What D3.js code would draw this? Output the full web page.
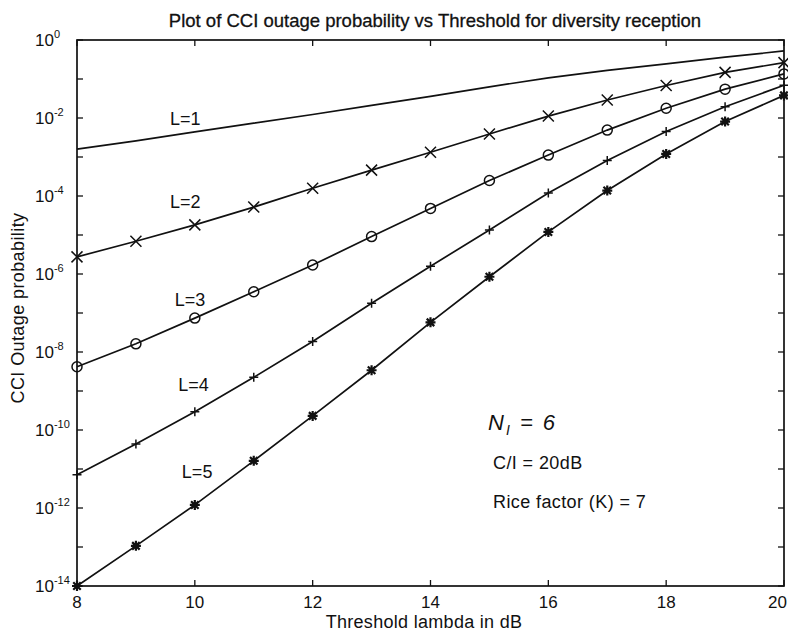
<!DOCTYPE html>
<html>
<head>
<meta charset="utf-8">
<script src="https://cdn.jsdelivr.net/npm/d3@7"></script>
<style>
  body { margin: 0; background: #fff; }
  text { font-family: "Liberation Sans", Arial, sans-serif; fill: #111; }
</style>
</head>
<body>
<div id="chart"></div>
<script>
// threshold lambda (dB)
const thresholds = [8, 9, 10, 11, 12, 13, 14, 15, 16, 17, 18, 19, 20]

// CCI outage probability for L = 1..5 branches
const outageL1 = [1.6e-3, 2.6e-3, 4.4e-3, 7.4e-3, 1.23e-2, 2.1e-2, 3.6e-2, 6.3e-2, 0.107, 0.166, 0.245, 0.363, 0.525]
const outageL2 = [2.75e-6, 6.9e-6, 1.82e-5, 5.2e-5, 1.58e-4, 4.6e-4, 1.32e-3, 3.9e-3, 1.12e-2, 2.9e-2, 6.8e-2, 0.148, 0.263]
const outageL3 = [4.2e-9, 1.62e-8, 7.4e-8, 3.5e-7, 1.7e-6, 9.1e-6, 4.8e-5, 2.5e-4, 1.12e-3, 4.9e-3, 1.78e-2, 5.5e-2, 0.135]
const outageL4 = [7.1e-12, 4.4e-11, 2.95e-10, 2.24e-9, 1.86e-8, 1.78e-7, 1.58e-6, 1.35e-5, 1.2e-4, 8.1e-4, 4.5e-3, 1.95e-2, 6.9e-2]
const outageL5 = [1.0e-14, 1.07e-13, 1.2e-12, 1.62e-11, 2.3e-10, 3.4e-9, 5.75e-8, 8.5e-7, 1.2e-5, 1.38e-4, 1.2e-3, 8.1e-3, 3.8e-2]

const seriesNames = ['L=1', 'L=2', 'L=3', 'L=4', 'L=5']
const seriesMarkers = ['none', 'x', 'o', '+', '*']

const xTicks = [8, 10, 12, 14, 16, 18, 20]
const yExponents = [0, -1, -2, -3, -4, -5, -6, -7, -8, -9, -10, -11, -12, -13, -14]
const yLabelExponents = [0, -2, -4, -6, -8, -10, -12, -14]

const width = 788
const height = 633
const plotLeft = 77, plotRight = 784, plotTop = 40, plotBottom = 586

const svg = d3.select('#chart').append('svg')
    .attr('width', width)
    .attr('height', height)

const x = d3.scaleLinear().domain([8, 20]).range([plotLeft, plotRight])
const y = d3.scaleLog().domain([1e-14, 1]).range([plotBottom, plotTop])

const allSeries = [outageL1, outageL2, outageL3, outageL4, outageL5].map((vals, i) => ({
    name: seriesNames[i],
    marker: seriesMarkers[i],
    points: thresholds.map((t, j) => ({ t: t, p: vals[j] }))
}))

// frame
svg.append('rect')
    .attr('x', plotLeft).attr('y', plotTop)
    .attr('width', plotRight - plotLeft).attr('height', plotBottom - plotTop)
    .attr('fill', 'none').attr('stroke', '#111').attr('stroke-width', 1.7)

// ticks pointing inward on all four sides
const tickLen = 6
const ticks = svg.append('g').attr('stroke', '#111').attr('stroke-width', 1.3)
xTicks.forEach(t => {
    ticks.append('line').attr('x1', x(t)).attr('x2', x(t)).attr('y1', plotBottom).attr('y2', plotBottom - tickLen)
    ticks.append('line').attr('x1', x(t)).attr('x2', x(t)).attr('y1', plotTop).attr('y2', plotTop + tickLen)
})
yExponents.forEach(e => {
    const v = Math.pow(10, e)
    ticks.append('line').attr('x1', plotLeft).attr('x2', plotLeft + tickLen).attr('y1', y(v)).attr('y2', y(v))
    ticks.append('line').attr('x1', plotRight).attr('x2', plotRight - tickLen).attr('y1', y(v)).attr('y2', y(v))
})

// x tick labels (the last one is pulled in so it stays on the page)
svg.append('g').selectAll('text')
    .data(xTicks)
    .enter().append('text')
    .attr('x', d => d === 20 ? 787 : x(d))
    .attr('y', plotBottom + 22)
    .attr('text-anchor', d => d === 20 ? 'end' : 'middle')
    .attr('font-size', 17)
    .text(d => d)

// y tick labels: 10 with a superscript exponent
const yLab = svg.append('g').selectAll('text')
    .data(yLabelExponents)
    .enter().append('text')
    .attr('x', 35)
    .attr('y', d => y(Math.pow(10, d)) + 6)
    .attr('font-size', 17)
yLab.append('tspan').text('10')
yLab.append('tspan').attr('dy', -8).attr('font-size', 11).text(d => d === 0 ? '0' : d)

// curves
const line = d3.line().x(d => x(d.t)).y(d => y(d.p))
svg.append('g').selectAll('path')
    .data(allSeries)
    .enter().append('path')
    .attr('d', d => line(d.points))
    .attr('fill', 'none')
    .attr('stroke', '#111')
    .attr('stroke-width', 1.7)

// markers
function markerPath (type, s) {
    if (type === 'x') return `M${-s},${-s}L${s},${s}M${-s},${s}L${s},${-s}`
    if (type === '+') return `M${-s},0L${s},0M0,${-s}L0,${s}`
    if (type === '*') {
        const k = s * 0.75
        return `M${-s},0L${s},0M0,${-s}L0,${s}M${-k},${-k}L${k},${k}M${-k},${k}L${k},${-k}`
    }
    return ''
}
allSeries.filter(d => d.marker !== 'none').forEach(s => {
    const g = svg.append('g')
    s.points.forEach(pt => {
        const cx = x(pt.t), cy = y(pt.p)
        if (s.marker === 'o') {
            g.append('circle').attr('cx', cx).attr('cy', cy).attr('r', 5)
                .attr('fill', 'none').attr('stroke', '#111').attr('stroke-width', 1.5)
        } else {
            const size = s.marker === 'x' ? 5.5 : s.marker === '+' ? 4.5 : 5
            g.append('path')
                .attr('transform', `translate(${cx},${cy})`)
                .attr('d', markerPath(s.marker, size))
                .attr('fill', 'none').attr('stroke', '#111')
                .attr('stroke-width', s.marker === '*' ? 2.2 : 1.5)
        }
    })
})

// curve labels
const curveLabels = [
    { name: 'L=1', t: 9.58, baseline: 125 },
    { name: 'L=2', t: 9.58, baseline: 208 },
    { name: 'L=3', t: 9.66, baseline: 306 },
    { name: 'L=4', t: 9.72, baseline: 391 },
    { name: 'L=5', t: 9.78, baseline: 478 }
]
svg.append('g').selectAll('text')
    .data(curveLabels)
    .enter().append('text')
    .attr('x', d => x(d.t))
    .attr('y', d => d.baseline)
    .attr('font-size', 18)
    .text(d => d.name)

// annotations
const ni = svg.append('text')
    .attr('x', 488).attr('y', 430)
    .attr('font-family', '"DejaVu Serif", serif')
    .attr('font-style', 'italic')
    .attr('font-size', 22)
    .attr('letter-spacing', 2)
ni.append('tspan').text('N')
ni.append('tspan').attr('dy', 5).attr('font-size', 14).text('I')
ni.append('tspan').attr('dy', -5).text(' =  6')

svg.append('text').attr('x', 493).attr('y', 469).attr('font-size', 18).attr('letter-spacing', 0.4).text('C/I = 20dB')
svg.append('text').attr('x', 493).attr('y', 508).attr('font-size', 18).attr('letter-spacing', 0.4).text('Rice factor (K) = 7')

// title and axis labels
svg.append('text')
    .attr('x', 435).attr('y', 27)
    .attr('text-anchor', 'middle')
    .attr('font-size', 18.5)
    .attr('stroke', '#111').attr('stroke-width', 0.3)
    .text('Plot of CCI outage probability vs Threshold for diversity reception')

svg.append('text')
    .attr('x', 424).attr('y', 628)
    .attr('text-anchor', 'middle')
    .attr('font-size', 18)
    .attr('letter-spacing', 0.3)
    .text('Threshold lambda in dB')

svg.append('text')
    .attr('transform', 'translate(24,308) rotate(-90)')
    .attr('text-anchor', 'middle')
    .attr('font-size', 18)
    .attr('letter-spacing', 0.4)
    .text('CCI Outage probability')
</script>
</body>
</html>
